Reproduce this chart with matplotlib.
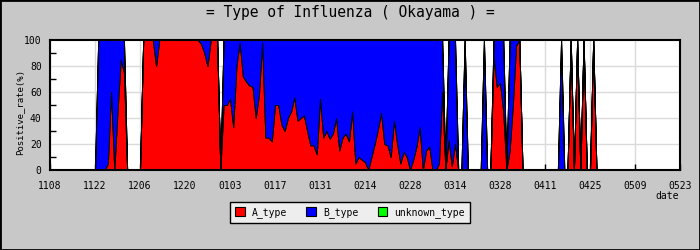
import matplotlib
matplotlib.use("Agg")
import matplotlib.pyplot as plt
from matplotlib.patches import Patch, Rectangle
import pandas as pd

# ---- data (daily positive rate %, 2010-11-08 .. 2011-05-23) ----
start_date = "2010-11-08"
end_date = "2011-05-23"

A_type = [
    0, 0, 0, 0, 0, 0, 0, 0, 0, 0, 0, 0, 0, 0,
    0, 0, 0, 0, 5, 60, 0, 45, 85, 75, 0, 0, 0, 0,
    0, 100, 100, 100, 100, 80, 100, 100, 100, 100, 100, 100, 100, 100,
    100, 100, 100, 100, 100, 97, 90, 80, 100, 100, 100, 0, 50, 50,
    55, 33, 80, 98, 72, 68, 65, 64, 40, 58, 98, 25, 25, 22,
    50, 50, 35, 30, 40, 45, 56, 38, 40, 42, 30, 19, 19, 12,
    55, 25, 30, 24, 28, 40, 15, 25, 28, 22, 45, 5, 10, 8,
    6, 0, 10, 20, 31, 44, 20, 19, 10, 38, 20, 5, 14, 10,
    0, 8, 18, 33, 0, 15, 18, 0, 0, 5, 60, 0, 23, 3,
    20, 0, 0, 0, 0, 0, 0, 0, 0, 0, 0, 0, 87, 64,
    67, 45, 0, 15, 50, 96, 100, 0, 0, 0, 0, 0, 0, 0,
    0, 0, 0, 0, 0, 0, 0, 0, 100, 0, 100, 0, 100, 0,
    0, 100, 0, 0, 0, 0, 0, 0, 0, 0, 0, 0, 0, 0,
    0, 0, 0, 0, 0, 0, 0, 0, 0, 0, 0, 0, 0, 0,
    0,
]

B_type = [
    0, 0, 0, 0, 0, 0, 0, 0, 0, 0, 0, 0, 0, 0,
    0, 100, 100, 100, 95, 40, 100, 55, 15, 25, 0, 0, 0, 0,
    0, 0, 0, 0, 0, 20, 0, 0, 0, 0, 0, 0, 0, 0,
    0, 0, 0, 0, 0, 3, 10, 20, 0, 0, 0, 0, 50, 50,
    45, 67, 20, 2, 28, 32, 35, 36, 60, 42, 2, 75, 75, 78,
    50, 50, 65, 70, 60, 55, 44, 62, 60, 58, 70, 81, 81, 88,
    45, 75, 70, 76, 72, 60, 85, 75, 72, 78, 55, 95, 90, 92,
    94, 100, 90, 80, 69, 56, 80, 81, 90, 62, 80, 95, 86, 90,
    100, 92, 82, 67, 100, 85, 82, 100, 100, 95, 40, 0, 77, 97,
    80, 0, 0, 100, 0, 0, 0, 0, 0, 100, 0, 0, 13, 36,
    33, 55, 0, 85, 50, 4, 0, 0, 0, 0, 0, 0, 0, 0,
    0, 0, 0, 0, 0, 100, 0, 0, 0, 0, 0, 0, 0, 0,
    0, 0, 0, 0, 0, 0, 0, 0, 0, 0, 0, 0, 0, 0,
    0, 0, 0, 0, 0, 0, 0, 0, 0, 0, 0, 0, 0, 0,
    0,
]

unknown_type = [0] * len(A_type)

series_labels = ["A_type", "B_type", "unknown_type"]
series_colors = ["#ff0000", "#0000ff", "#00ff00"]
tick_labels = ["1108", "1122", "1206", "1220", "0103", "0117", "0131",
               "0214", "0228", "0314", "0328", "0411", "0425", "0509", "0523"]
y_ticks = [0, 20, 40, 60, 80, 100]
title = "= Type of Influenza ( Okayama ) ="

# ---- figure ----
mono = "DejaVu Sans Mono"
bg = "#c8c8c8"
grid_c = "#dadada"

fig = plt.figure(figsize=(7, 2.5), dpi=100, facecolor=bg)
ax = fig.add_axes([50 / 700, 80 / 250, 630 / 700, 130 / 250])
ax.set_facecolor("white")

dates = pd.date_range(start_date, end_date, freq="D")
tick_dates = dates[::14]

ax.stackplot(dates, A_type, B_type, unknown_type, colors=series_colors,
             edgecolor="black", linewidth=0.7, zorder=2)

ax.set_xlim(dates[0], dates[-1])
ax.set_ylim(0, 100)

# grid below the areas
for t in tick_dates:
    ax.axvline(t, color=grid_c, lw=1, zorder=0.5)
for y in y_ticks[1:-1]:
    ax.axhline(y, color=grid_c, lw=1, zorder=0.5)

ax.set_xticks(tick_dates)
ax.set_xticklabels(tick_labels, family=mono, fontsize=7)
ax.set_yticks(y_ticks)
ax.set_yticklabels([str(v) for v in y_ticks], family=mono, fontsize=7)
ax.set_yticks([10, 30, 50, 70, 90], minor=True)
ax.tick_params(axis="x", direction="in", length=4, width=1, pad=8, colors="black")
ax.tick_params(axis="y", which="major", direction="in", length=0, pad=6)
ax.tick_params(axis="y", which="minor", direction="in", length=4, width=1)

for s in ax.spines.values():
    s.set_linewidth(1.5)
    s.set_color("black")
    s.set_zorder(3)

fig.text(0.5, 1 - 13 / 250, title, ha="center", va="center",
         family=mono, fontsize=10.5)
fig.text(20 / 700, 1 - 112 / 250, "Positive_rate(%)", rotation=90,
         ha="center", va="center", family=mono, fontsize=6.5)
fig.text(667 / 700, 1 - 196 / 250, "date", ha="center", va="center",
         family=mono, fontsize=7)

handles = [Patch(facecolor=c, edgecolor="black", linewidth=0.8, label=l)
           for c, l in zip(series_colors, series_labels)]
leg = fig.legend(handles=handles, loc="center",
                 bbox_to_anchor=(350 / 700, 1 - 212.5 / 250), ncol=3,
                 frameon=True, fancybox=False, edgecolor="black",
                 facecolor="#eeeeee", framealpha=1,
                 prop={"family": mono, "size": 7},
                 handlelength=1.0, handleheight=1.0, handletextpad=0.7,
                 columnspacing=2.0, borderpad=0.5)
leg.get_frame().set_linewidth(1)

fig.patches.append(Rectangle((0, 0), 1, 1, transform=fig.transFigure,
                             fill=False, edgecolor="black", linewidth=2))

fig.savefig("out.png", dpi=100, facecolor=fig.get_facecolor())
